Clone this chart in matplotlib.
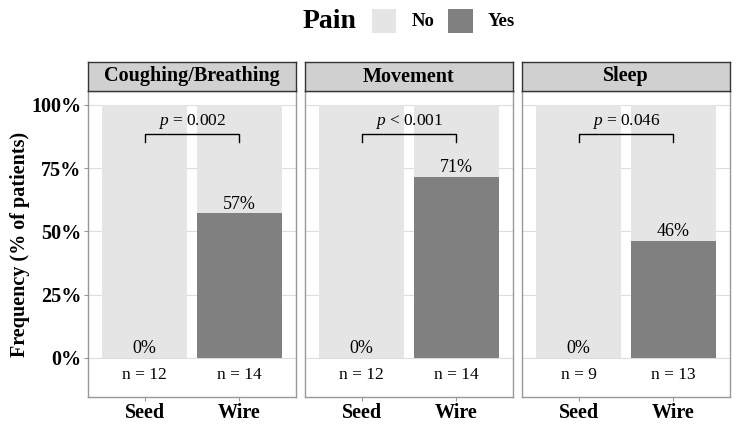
import matplotlib
matplotlib.use("Agg")
import matplotlib.pyplot as plt
from matplotlib.patches import Rectangle

plt.rcParams['font.family'] = ['Liberation Serif', 'DejaVu Serif']
plt.rcParams['mathtext.fontset'] = 'custom'
plt.rcParams['mathtext.rm'] = 'Liberation Serif'
plt.rcParams['mathtext.it'] = 'Liberation Serif:italic'
plt.rcParams['mathtext.bf'] = 'Liberation Serif:bold'

facets = ["Coughing/Breathing", "Movement", "Sleep"]
groups = ["Seed", "Wire"]
yes_pct = [[0, 57.1], [0, 71.4], [0, 46.2]]
yes_labels = [["0%", "57%"], ["0%", "71%"], ["0%", "46%"]]
n_labels = [["n = 12", "n = 14"], ["n = 12", "n = 14"], ["n = 9", "n = 13"]]
p_texts = [r"$p$ = 0.002", r"$p$ < 0.001", r"$p$ = 0.046"]
yticks = [0, 25, 50, 75, 100]
ytick_labels = ["0%", "25%", "50%", "75%", "100%"]

col_no = "#E5E5E5"
col_yes = "#808080"

W, H = 740, 429
fig = plt.figure(figsize=(W / 100, H / 100), dpi=100)

lefts = [88, 305, 522]
pw = 208
top, bottom = 91, 397
strip_top = 62

for i, f in enumerate(facets):
    ax = fig.add_axes([lefts[i] / W, (H - bottom) / H, pw / W, (bottom - top) / H])
    x = [1, 2]
    ax.bar(x, [100, 100], width=0.9, color=col_no, zorder=2)
    ax.bar(x, yes_pct[i], width=0.9, color=col_yes, zorder=3)
    for yt in yticks:
        ax.axhline(yt, color="#DDDDDD", lw=0.8, zorder=1)
    for j in range(2):
        ax.text(x[j], yes_pct[i][j] + 0.3, yes_labels[i][j], ha="center", va="bottom",
                fontsize=13, zorder=5)
        ax.text(x[j], -6.8, n_labels[i][j], ha="center", va="center", fontsize=12.5, zorder=5)
    # bracket
    ax.plot([1, 1, 2, 2], [85.5, 88.5, 88.5, 85.5], color="black", lw=1.0, zorder=5)
    ax.text(1.5, 89.5, p_texts[i], ha="center", va="bottom", fontsize=12.5, zorder=5)
    ax.set_xlim(0.4, 2.6)
    ax.set_ylim(-15.5, 105.5)
    ax.set_xticks(x)
    ax.set_xticklabels(groups, fontsize=14.5, fontweight="bold")
    ax.tick_params(axis="x", length=3, color="#999999", pad=1)
    if i == 0:
        ax.set_yticks(yticks)
        ax.set_yticklabels(ytick_labels, fontsize=14.5, fontweight="bold")
        ax.tick_params(axis="y", length=3, color="#999999", pad=2)
        ax.set_ylabel("Frequency (% of patients)", fontsize=14.5, fontweight="bold", labelpad=1)
    else:
        ax.set_yticks([])
    for s in ax.spines.values():
        s.set_color("#999999")
        s.set_linewidth(1.0)
    # strip
    sax = fig.add_axes([lefts[i] / W, (H - top) / H, pw / W, (top - strip_top) / H])
    sax.set_facecolor("#D0D0D0")
    sax.set_xticks([])
    sax.set_yticks([])
    for s in sax.spines.values():
        s.set_color("#333333")
        s.set_linewidth(1.0)
    sax.text(0.5, 0.5, f, ha="center", va="center", fontsize=14.5, fontweight="bold",
             transform=sax.transAxes)

# legend
fig.text(303 / W, 1 - 22 / H, "Pain", fontsize=20, fontweight="bold", ha="left", va="center")
fig.patches.append(Rectangle((372 / W, 1 - 33 / H), 24 / W, 24 / H, transform=fig.transFigure,
                             facecolor=col_no, edgecolor="none"))
fig.text(412 / W, 1 - 22 / H, "No", fontsize=13.5, fontweight="bold", ha="left", va="center")
fig.patches.append(Rectangle((448 / W, 1 - 33 / H), 25 / W, 24 / H, transform=fig.transFigure,
                             facecolor=col_yes, edgecolor="none"))
fig.text(488 / W, 1 - 22 / H, "Yes", fontsize=13.5, fontweight="bold", ha="left", va="center")

fig.savefig("out.png", dpi=100)
